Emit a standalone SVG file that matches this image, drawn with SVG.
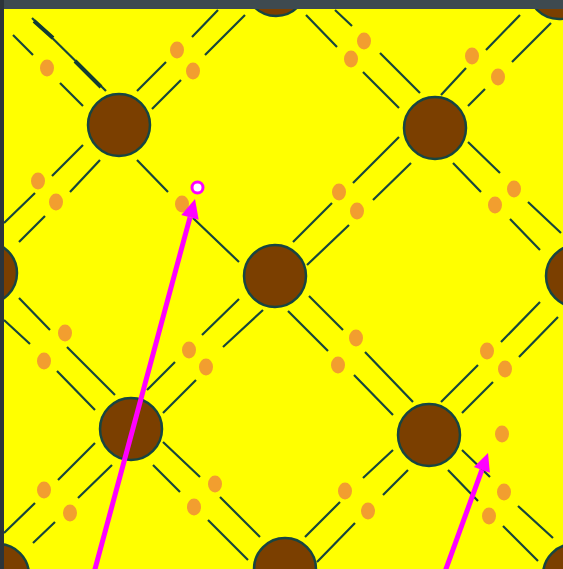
<svg xmlns="http://www.w3.org/2000/svg" width="563" height="569" viewBox="0 0 563 569">
<defs>
<style>
.bg{fill:#ffff00}
.ln{stroke:#17463c;stroke-width:2.2;fill:none;stroke-linecap:butt}
.thick{stroke:#123c34;stroke-width:4;fill:none}
.dot{fill:#f29e2f}
.node{fill:#7b3f00;stroke:#174541;stroke-width:2.5}
.arrow{stroke:#ff00ff;stroke-width:5;fill:none}
.head{fill:#ff00ff}
</style>
</defs>
<rect class="bg" x="0" y="0" width="563" height="569"/>
<g id="connectors">
<path class="ln" d="M32,18L106,91"/>
<path class="thick" d="M34,21L53,38M75,61L101,87"/>
<path class="ln" d="M13,35L33,55M60,83L83,106"/>
<path class="ln" d="M137,91L166,62M192,37L218,10M152,109L181,80M205,55L245,15"/>
<path class="ln" d="M306,15L337,47M363,72L399,108M335,10L352,26M380,53L420,93"/>
<path class="ln" d="M441,95L466,68M486,50L520,15M468,106L485,89M512,62L551,23"/>
<path class="ln" d="M468,142L500,173M528,202L561,233M453,163L481,192M510,219L540,250"/>
<path class="ln" d="M83,145L52,176M35,193L4,223M100,160L70,192M45,216L19,242"/>
<path class="ln" d="M137,160L168,192M193,218L239,262"/>
<path class="ln" d="M293,242L332,203M353,183L399,137M307,265L349,225M373,200L411,163"/>
<path class="ln" d="M19,298L50,330M67,347L115,395M4,320L30,344M57,371L95,410"/>
<path class="ln" d="M147,390L175,362M202,335L239,299M163,413L196,380M223,347L263,310"/>
<path class="ln" d="M309,296L343,330M365,352L413,402M288,311L328,351M354,375L393,415"/>
<path class="ln" d="M441,402L478,365M501,342L540,302M462,413L493,382M519,357L558,317"/>
<path class="ln" d="M95,443L58,480M35,503L4,533M112,465L78,498M55,522L33,543"/>
<path class="ln" d="M163,442L200,477M220,497L260,537M153,465L180,492M208,520L248,560"/>
<path class="ln" d="M305,537L340,502M363,478L393,450M317,562L355,523M383,495L408,470"/>
<path class="ln" d="M462,450L490,477M518,506L553,538M448,470L478,501M503,526L538,561"/>
</g>
<g id="dots">
<ellipse class="dot" cx="47" cy="68" rx="7" ry="8.5"/>
<ellipse class="dot" cx="177" cy="50" rx="7" ry="8.5"/>
<ellipse class="dot" cx="193" cy="71" rx="7" ry="8.5"/>
<ellipse class="dot" cx="351" cy="59" rx="7" ry="8.5"/>
<ellipse class="dot" cx="364" cy="41" rx="7" ry="8.5"/>
<ellipse class="dot" cx="472" cy="56" rx="7" ry="8.5"/>
<ellipse class="dot" cx="498" cy="77" rx="7" ry="8.5"/>
<ellipse class="dot" cx="514" cy="189" rx="7" ry="8.5"/>
<ellipse class="dot" cx="495" cy="205" rx="7" ry="8.5"/>
<ellipse class="dot" cx="38" cy="181" rx="7" ry="8.5"/>
<ellipse class="dot" cx="56" cy="202" rx="7" ry="8.5"/>
<ellipse class="dot" cx="182" cy="204" rx="7" ry="8.5"/>
<ellipse class="dot" cx="339" cy="192" rx="7" ry="8.5"/>
<ellipse class="dot" cx="357" cy="211" rx="7" ry="8.5"/>
<ellipse class="dot" cx="65" cy="333" rx="7" ry="8.5"/>
<ellipse class="dot" cx="44" cy="361" rx="7" ry="8.5"/>
<ellipse class="dot" cx="189" cy="350" rx="7" ry="8.5"/>
<ellipse class="dot" cx="206" cy="367" rx="7" ry="8.5"/>
<ellipse class="dot" cx="356" cy="338" rx="7" ry="8.5"/>
<ellipse class="dot" cx="338" cy="365" rx="7" ry="8.5"/>
<ellipse class="dot" cx="487" cy="351" rx="7" ry="8.5"/>
<ellipse class="dot" cx="505" cy="369" rx="7" ry="8.5"/>
<ellipse class="dot" cx="44" cy="490" rx="7" ry="8.5"/>
<ellipse class="dot" cx="70" cy="513" rx="7" ry="8.5"/>
<ellipse class="dot" cx="215" cy="484" rx="7" ry="8.5"/>
<ellipse class="dot" cx="194" cy="507" rx="7" ry="8.5"/>
<ellipse class="dot" cx="345" cy="491" rx="7" ry="8.5"/>
<ellipse class="dot" cx="368" cy="511" rx="7" ry="8.5"/>
<ellipse class="dot" cx="504" cy="492" rx="7" ry="8.5"/>
<ellipse class="dot" cx="489" cy="516" rx="7" ry="8.5"/>
<ellipse class="dot" cx="502" cy="434" rx="7" ry="8.5"/>
</g>
<g id="node-a"><circle class="node" cx="119" cy="125" r="31"/></g>
<g id="node-b"><circle class="node" cx="435" cy="128" r="31"/></g>
<g id="node-c"><circle class="node" cx="275" cy="276" r="31"/></g>
<g id="node-d"><circle class="node" cx="131" cy="429" r="31"/></g>
<g id="node-e"><circle class="node" cx="429" cy="435" r="31"/></g>
<g id="node-top"><circle class="node" cx="276" cy="-15" r="31"/></g>
<g id="node-topright"><circle class="node" cx="559" cy="-12" r="31"/></g>
<g id="node-left"><circle class="node" cx="-14" cy="273" r="31"/></g>
<g id="node-right"><circle class="node" cx="577" cy="276" r="31"/></g>
<g id="node-bottomleft"><circle class="node" cx="-2" cy="575" r="31"/></g>
<g id="node-bottom"><circle class="node" cx="285" cy="569" r="31"/></g>
<g id="node-bottomright"><circle class="node" cx="574" cy="575" r="31"/></g>
<g id="marker"><circle cx="197.5" cy="187.5" r="5.5" fill="#ffffff" stroke="#ff00ff" stroke-width="3"/></g>
<g id="arrows">
<path class="arrow" d="M93.4,575L190,217.3"/>
<polygon class="head" points="195,199 198.7,219.7 181.3,215"/>
<path class="arrow" d="M443.8,575L481.9,469.9"/>
<polygon class="head" points="488,453 489.9,472.8 473.9,467"/>
</g>
<rect x="0" y="0" width="563" height="9" fill="#3e4a50"/>
<rect x="0" y="0" width="4" height="569" fill="#2c343a"/>
</svg>
